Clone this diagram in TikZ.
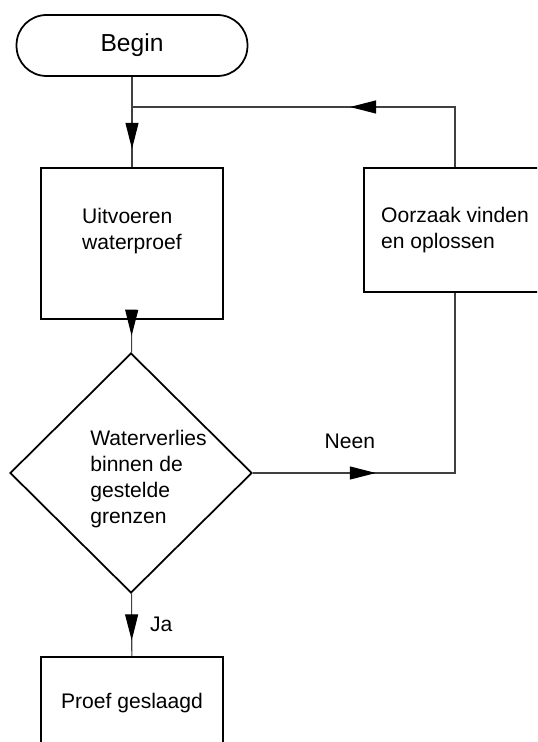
\documentclass[tikz,border=0pt]{standalone}
\usepackage{fontspec}
\setmainfont{Liberation Sans}
\usetikzlibrary{arrows.meta,decorations.markings,shapes.geometric}

\begin{document}
\begin{tikzpicture}[x=0.02cm, y=-0.02cm,
    font=\fontsize{12}{14.8}\selectfont,
    shapeline/.style={draw=black, line width=1pt},
    terminal/.style={shapeline, rectangle, rounded corners=0.6cm,
        minimum width=4.62cm, minimum height=1.22cm,
        font=\fontsize{14}{17}\selectfont},
    procbox/.style={shapeline, rectangle, minimum width=3.64cm,
        align=left, inner sep=0pt},
    decision/.style={shapeline, diamond, minimum width=4.84cm,
        minimum height=4.8cm, inner sep=0pt},
    flow/.style={draw=black!75, line width=0.6pt},
    flowlabel/.style={inner sep=0pt},
    midarrow/.style={postaction={decorate, decoration={markings,
        mark=at position #1 with {\arrow{Triangle[length=0.52cm, width=0.26cm, color=black]}}}}}]
    \useasboundingbox (0,0) rectangle (537,742);
    \clip (0,0) rectangle (537,742);
    \fill[white] (0,0) rectangle (537,742);

    % vakken
    \node[terminal] (begin) at (132,45.5) {Begin};
    \node[procbox, minimum height=3.02cm, anchor=north,
        label={[flowlabel, align=left, yshift=0.24cm]center:Uitvoeren\\waterproef}] (test) at (132,167) {};
    \node[decision] (check) at (131,473) {};
    \node[flowlabel, align=left, anchor=west] (checktext) at (90,479) {Waterverlies\\binnen de\\gestelde\\grenzen};
    \node[procbox, minimum height=1.84cm, anchor=north] (done) at (132,656) {Proef geslaagd};
    \node[procbox, minimum height=2.48cm, anchor=north] (fix) at (455,167) {Oorzaak vinden\\en oplossen};
    \coordinate (join) at (132,107);

    % verbindingen
    \draw[flow, midarrow=1.44cm] (begin) -- (test);
    \draw[flow, midarrow=0.32cm] (test) -- (check);
    \draw[flow, midarrow=0.94cm] (check) -- (done)
        node[flowlabel, midway, anchor=west, xshift=0.36cm] (ja) {Ja};
    \draw[flow, midarrow=2.46cm] (check.east) -- (check.east -| fix)
        node[flowlabel, pos=0.48, above=0.48cm] (neen) {Neen} -- (fix);
    \draw[flow, midarrow=3.3cm] (fix) |- (join);
\end{tikzpicture}
\end{document}
